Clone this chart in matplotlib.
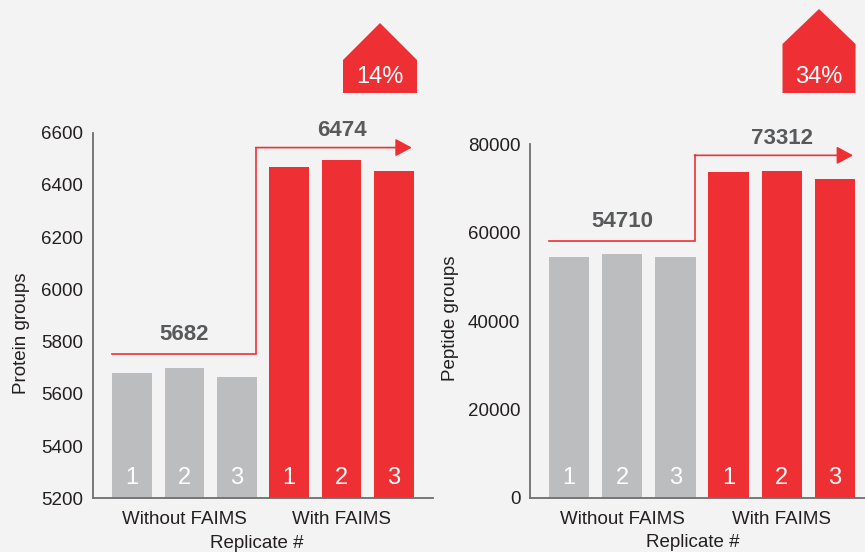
import numpy as np
import matplotlib
matplotlib.use("Agg")
import matplotlib.pyplot as plt
from matplotlib.patches import Polygon
import matplotlib.transforms as mtransforms

plt.rcParams["font.family"] = ["Liberation Sans", "DejaVu Sans"]

# Data
replicates = ["1", "2", "3", "1", "2", "3"]
groups = ["Without FAIMS", "With FAIMS"]
protein_groups = [5680, 5700, 5666, 6470, 6497, 6455]
peptide_groups = [54600, 55100, 54430, 73700, 74000, 72236]
protein_means = [5682, 6474]
peptide_means = [54710, 73312]
protein_bracket = [5751, 6543]   # height of the red step line
peptide_bracket = [58000, 77500]
increase_labels = ["14%", "34%"]

GREY = "#bcbdbf"
RED = "#ee3035"
BG = "#f3f3f3"
TEXT = "#231f20"
NUM = "#58595b"

W, H = 865, 552
fig = plt.figure(figsize=(W / 100, H / 100), dpi=100, facecolor=BG)


def px_axes(x0, y0, x1, y1):
    # axes from pixel box (top-left origin)
    return fig.add_axes([x0 / W, 1 - y1 / H, (x1 - x0) / W, (y1 - y0) / H])


def draw_panel(ax, values, means, bracket, ylim, yticks, ylabel, ylab_xy,
               xlab_xy, xlim):
    ax.set_facecolor("none")
    x = np.arange(len(values))
    colors = [GREY] * 3 + [RED] * 3
    ax.bar(x, [v - ylim[0] for v in values], bottom=ylim[0], width=0.76,
           color=colors, zorder=2)
    ax.set_xlim(*xlim)
    ax.set_ylim(*ylim)
    ax.set_yticks(yticks)
    ax.set_yticklabels([str(t) for t in yticks])
    ax.set_xticks([1, 4])
    ax.set_xticklabels(groups)
    ax.tick_params(length=0, labelsize=13.5, labelcolor=TEXT)
    ax.tick_params(axis="y", pad=7)
    ax.tick_params(axis="x", pad=9.5)
    for s in ["top", "right"]:
        ax.spines[s].set_visible(False)
    for s in ["left", "bottom"]:
        ax.spines[s].set_color("#6d6e71")
        ax.spines[s].set_linewidth(1.3)

    ax.text(ylab_xy[0], ylab_xy[1], ylabel, transform=ax.transAxes,
            rotation=90, ha="center", va="center", fontsize=13.5, color=TEXT)
    ax.set_xlabel("Replicate #", fontsize=13.5, color=TEXT)
    ax.xaxis.set_label_coords(*xlab_xy)

    # replicate numbers inside the bars
    trans = mtransforms.blended_transform_factory(ax.transData, ax.transAxes)
    for i, r in enumerate(replicates):
        ax.text(i, 0.056, r, transform=trans, ha="center", va="center",
                fontsize=17, color="white", zorder=3)

    # red step line with arrow
    x_start = -0.38
    x_step = 2.36
    x_tip = 5.34
    ax.plot([x_start, x_step, x_step], [bracket[0], bracket[0], bracket[1]],
            color=RED, lw=1.2, clip_on=False, zorder=3,
            solid_joinstyle="miter")
    ax.annotate("", xy=(x_tip, bracket[1]), xytext=(x_step, bracket[1]),
                arrowprops=dict(arrowstyle="-|>,head_length=0.5,head_width=0.27",
                                color=RED, lw=1.2, shrinkA=0, shrinkB=0,
                                mutation_scale=20),
                annotation_clip=False)

    # mean labels
    ax.annotate(f"{means[0]}", xy=(1, bracket[0]), xytext=(0, 20),
                textcoords="offset pixels", ha="center", va="center",
                fontsize=16, fontweight="bold", color=NUM, annotation_clip=False)
    ax.annotate(f"{means[1]}", xy=(4, bracket[1]), xytext=(0, 17),
                textcoords="offset pixels", ha="center", va="center",
                fontsize=16, fontweight="bold", color=NUM, annotation_clip=False)


ax1 = px_axes(93, 132.7, 433, 498.3)
draw_panel(ax1, protein_groups, protein_means, protein_bracket,
           (5200, 6600), list(range(5200, 6601, 200)), "Protein groups",
           (-0.21, 0.452), (0.482, -0.1), (-0.745, 5.745))

ax2 = px_axes(530, 144.3, 865, 497.7)
draw_panel(ax2, peptide_groups, peptide_means, peptide_bracket,
           (0, 80000), list(range(0, 80001, 20000)), "Peptide groups",
           (-0.236, 0.508), (0.487, -0.104), (-0.733, 5.564))


# "house" badges showing the increase
def badge(cx, half_w, peak, shoulder, bottom, label):
    pts = [(cx - half_w, bottom), (cx - half_w, shoulder), (cx, peak),
           (cx + half_w, shoulder), (cx + half_w, bottom)]
    pts = [(px / W, 1 - py / H) for px, py in pts]
    fig.patches.append(Polygon(pts, closed=True, transform=fig.transFigure,
                               facecolor=RED, edgecolor="none"))
    fig.text(cx / W, 1 - 77 / H, label, ha="center", va="center",
             fontsize=17, color="white")


badge(380, 37, 23, 60, 93, increase_labels[0])
badge(819, 36.5, 9, 44, 93, increase_labels[1])

fig.savefig("out.png", dpi=100, facecolor=BG)
